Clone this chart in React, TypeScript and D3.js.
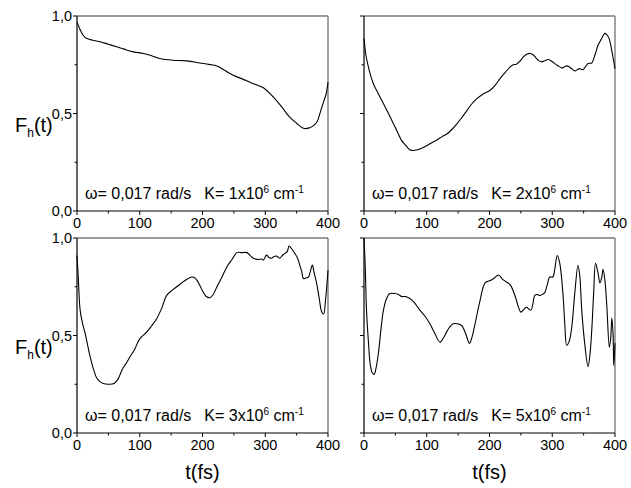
import React from "react";
import * as d3 from "d3";

const t1 = [0, 5, 10, 15, 25, 37, 50, 63, 75, 90, 106, 120, 132, 153, 175, 196, 210, 223, 236, 249, 265, 281, 297, 313, 326, 339, 350, 361, 369, 377, 383, 388, 393, 397, 400];
const f1 = [0.97, 0.93, 0.9, 0.886, 0.876, 0.868, 0.855, 0.842, 0.83, 0.816, 0.808, 0.795, 0.782, 0.773, 0.77, 0.759, 0.752, 0.744, 0.72, 0.696, 0.675, 0.653, 0.632, 0.584, 0.535, 0.481, 0.45, 0.424, 0.425, 0.438, 0.46, 0.51, 0.56, 0.6, 0.661];

const t2 = [0, 3, 7, 11, 15, 23, 31, 39, 47, 54, 60, 67, 73, 79, 84, 92, 100, 108, 116, 124, 132, 140, 148, 156, 164, 172, 180, 190, 201, 209, 217, 225, 233, 238, 243, 249, 254, 260, 265, 270, 275, 279, 283, 289, 294, 299, 304, 309, 315, 319, 323, 329, 336, 340, 343, 346, 349, 353, 357, 360, 363, 368, 373, 378, 384, 388, 391, 395, 400];
const f2 = [0.885, 0.8, 0.739, 0.69, 0.653, 0.6, 0.55, 0.5, 0.447, 0.4, 0.361, 0.335, 0.314, 0.31, 0.313, 0.322, 0.335, 0.35, 0.364, 0.38, 0.395, 0.418, 0.447, 0.48, 0.515, 0.55, 0.576, 0.6, 0.619, 0.645, 0.68, 0.71, 0.739, 0.75, 0.753, 0.77, 0.79, 0.805, 0.808, 0.8, 0.782, 0.77, 0.765, 0.772, 0.777, 0.768, 0.756, 0.745, 0.734, 0.738, 0.744, 0.735, 0.718, 0.725, 0.73, 0.727, 0.725, 0.74, 0.756, 0.758, 0.759, 0.8, 0.85, 0.88, 0.911, 0.9, 0.88, 0.82, 0.73];

const t3 = [0, 2, 5, 9, 13, 17, 21, 26, 31, 36, 42, 50, 58, 62, 66, 70, 74, 79, 84, 92, 100, 111, 119, 127, 135, 143, 153, 161, 169, 176, 183, 187, 191, 196, 201, 206, 212, 217, 223, 231, 239, 247, 255, 263, 271, 276, 281, 289, 294, 297, 302, 306, 310, 314, 318, 323, 327, 331, 335, 338, 342, 347, 351, 355, 358, 361, 365, 369, 372, 375, 378, 382, 386, 390, 393, 396, 400];
const f3 = [0.91, 0.8, 0.63, 0.56, 0.51, 0.45, 0.39, 0.33, 0.285, 0.265, 0.254, 0.25, 0.252, 0.263, 0.28, 0.31, 0.337, 0.36, 0.388, 0.43, 0.483, 0.517, 0.55, 0.586, 0.64, 0.706, 0.735, 0.755, 0.775, 0.79, 0.8, 0.797, 0.784, 0.755, 0.723, 0.7, 0.694, 0.71, 0.75, 0.8, 0.853, 0.89, 0.925, 0.925, 0.925, 0.91, 0.896, 0.89, 0.892, 0.887, 0.912, 0.9, 0.896, 0.905, 0.907, 0.896, 0.91, 0.92, 0.93, 0.959, 0.945, 0.921, 0.9, 0.861, 0.83, 0.792, 0.795, 0.801, 0.83, 0.861, 0.82, 0.766, 0.69, 0.621, 0.61, 0.68, 0.835];

const t4 = [0, 2, 4, 7, 10, 13, 16, 19, 23, 27, 31, 36, 41, 49, 55, 60, 66, 73, 80, 89, 97, 105, 113, 121, 127, 132, 137, 142, 149, 156, 162, 168, 172, 177, 185, 193, 203, 208, 214, 222, 233, 241, 250, 255, 259, 263, 266, 269, 272, 276, 280, 284, 288, 292, 296, 301, 304, 308, 312, 317, 320, 323, 327, 331, 336, 341, 344, 347, 352, 357, 360, 363, 366, 369, 373, 376, 379, 381, 384, 387, 391, 393, 395, 397, 398, 400];
const f4 = [1.0, 0.85, 0.63, 0.47, 0.35, 0.31, 0.3, 0.33, 0.41, 0.53, 0.63, 0.69, 0.715, 0.715, 0.71, 0.7, 0.7, 0.69, 0.67, 0.63, 0.6, 0.56, 0.51, 0.465, 0.49, 0.52, 0.545, 0.56, 0.56, 0.55, 0.51, 0.46, 0.49, 0.56, 0.68, 0.77, 0.785, 0.795, 0.81, 0.785, 0.76, 0.7, 0.62, 0.635, 0.645, 0.635, 0.63, 0.66, 0.705, 0.71, 0.705, 0.71, 0.72, 0.76, 0.8, 0.8, 0.84, 0.91, 0.87, 0.715, 0.56, 0.45, 0.47, 0.54, 0.72, 0.86, 0.8, 0.63, 0.45, 0.34, 0.4, 0.53, 0.72, 0.87, 0.82, 0.77, 0.8, 0.84, 0.78, 0.65, 0.44, 0.48, 0.59, 0.5, 0.345, 0.46];

const kValues = ["1", "2", "3", "5"];
const xMajor = [0, 100, 200, 300, 400];
const xMinor = [50, 150, 250, 350];
const yMajor = [0, 0.5, 1.0];
const yMajorLabels = ["0,0", "0,5", "1,0"];
const yMinor = [0.25, 0.75];

const series = [
  { t: t1, f: f1 },
  { t: t2, f: f2 },
  { t: t3, f: f3 },
  { t: t4, f: f4 },
];

const FONT = "'Liberation Sans', Arial, Helvetica, sans-serif";
const panelX = [77, 364];
const panelY = [16, 238];
const PW = 251;
const PH = 195;

function Panel({ idx }: { idx: number }) {
  const col = idx % 2;
  const row = Math.floor(idx / 2);
  const x0 = panelX[col];
  const y0 = panelY[row];
  const x = d3.scaleLinear().domain([0, 400]).range([x0, x0 + PW]);
  const y = d3.scaleLinear().domain([0, 1]).range([y0 + PH, y0]);
  const s = series[idx];
  const pts: [number, number][] = s.t.map((tv, i) => [tv, s.f[i]]);
  const line = d3
    .line<[number, number]>()
    .x((d) => x(d[0]))
    .y((d) => y(d[1]))
    .curve(d3.curveCatmullRom.alpha(0.5));
  const bottom = y0 + PH;
  return (
    <g>
      <line x1={x0} x2={x0 + PW} y1={y0} y2={y0} stroke="#7a7a7a" strokeWidth={1.4} />
      <line x1={x0 + PW} x2={x0 + PW} y1={y0} y2={bottom} stroke="#7a7a7a" strokeWidth={1.4} />
      <line x1={x0} x2={x0 + PW} y1={bottom} y2={bottom} stroke="#000" strokeWidth={1.2} />
      <line x1={x0} x2={x0} y1={y0} y2={bottom} stroke="#000" strokeWidth={1.2} />
      {xMajor.map((v) => (
        <g key={"xm" + v}>
          <line x1={x(v)} x2={x(v)} y1={bottom} y2={bottom + 4} stroke="#000" />
          <text x={x(v)} y={bottom + 17} fontSize={14.5} fontFamily={FONT} textAnchor="middle">
            {v}
          </text>
        </g>
      ))}
      {xMinor.map((v) => (
        <line key={"xn" + v} x1={x(v)} x2={x(v)} y1={bottom} y2={bottom + 2.5} stroke="#000" />
      ))}
      {yMajor.map((v, i) => (
        <g key={"ym" + v}>
          <line x1={x0 - 4} x2={x0} y1={y(v)} y2={y(v)} stroke="#000" />
          {col === 0 && (
            <text x={x0 - 5} y={y(v) + 5} fontSize={14.5} fontFamily={FONT} textAnchor="end">
              {yMajorLabels[i]}
            </text>
          )}
        </g>
      ))}
      {yMinor.map((v) => (
        <line key={"yn" + v} x1={x0 - 2.5} x2={x0} y1={y(v)} y2={y(v)} stroke="#000" />
      ))}
      <path d={line(pts) || ""} fill="none" stroke="#000" strokeWidth={1.1} />
      <text x={x0 + 8} y={bottom - 12} fontSize={16} fontFamily={FONT}>
        <tspan>ω= 0,017 rad/s</tspan>
        <tspan dx={13}>K= {kValues[idx]}x10</tspan>
        <tspan dy={-6} fontSize={10}>6</tspan>
        <tspan dy={6}> cm</tspan>
        <tspan dy={-6} fontSize={10}>-1</tspan>
      </text>
      {col === 0 && (
        <text x={15} y={y(0.5) + 18} fontSize={20} fontFamily={FONT} fill="#000">
          <tspan>F</tspan>
          <tspan dy={5} fontSize={12}>h</tspan>
          <tspan dy={-5}>(t)</tspan>
        </text>
      )}
      {row === 1 && (
        <text x={x0 + PW / 2} y={479} fontSize={20} fontFamily={FONT} textAnchor="middle">
          t(fs)
        </text>
      )}
    </g>
  );
}

export default function App() {
  return (
    <svg
      width={631}
      height={488}
      style={{ position: "absolute", left: 0, top: 0, background: "#fff" }}
    >
      <rect width={631} height={488} fill="#fff" />
      {[0, 1, 2, 3].map((i) => (
        <Panel key={i} idx={i} />
      ))}
    </svg>
  );
}
